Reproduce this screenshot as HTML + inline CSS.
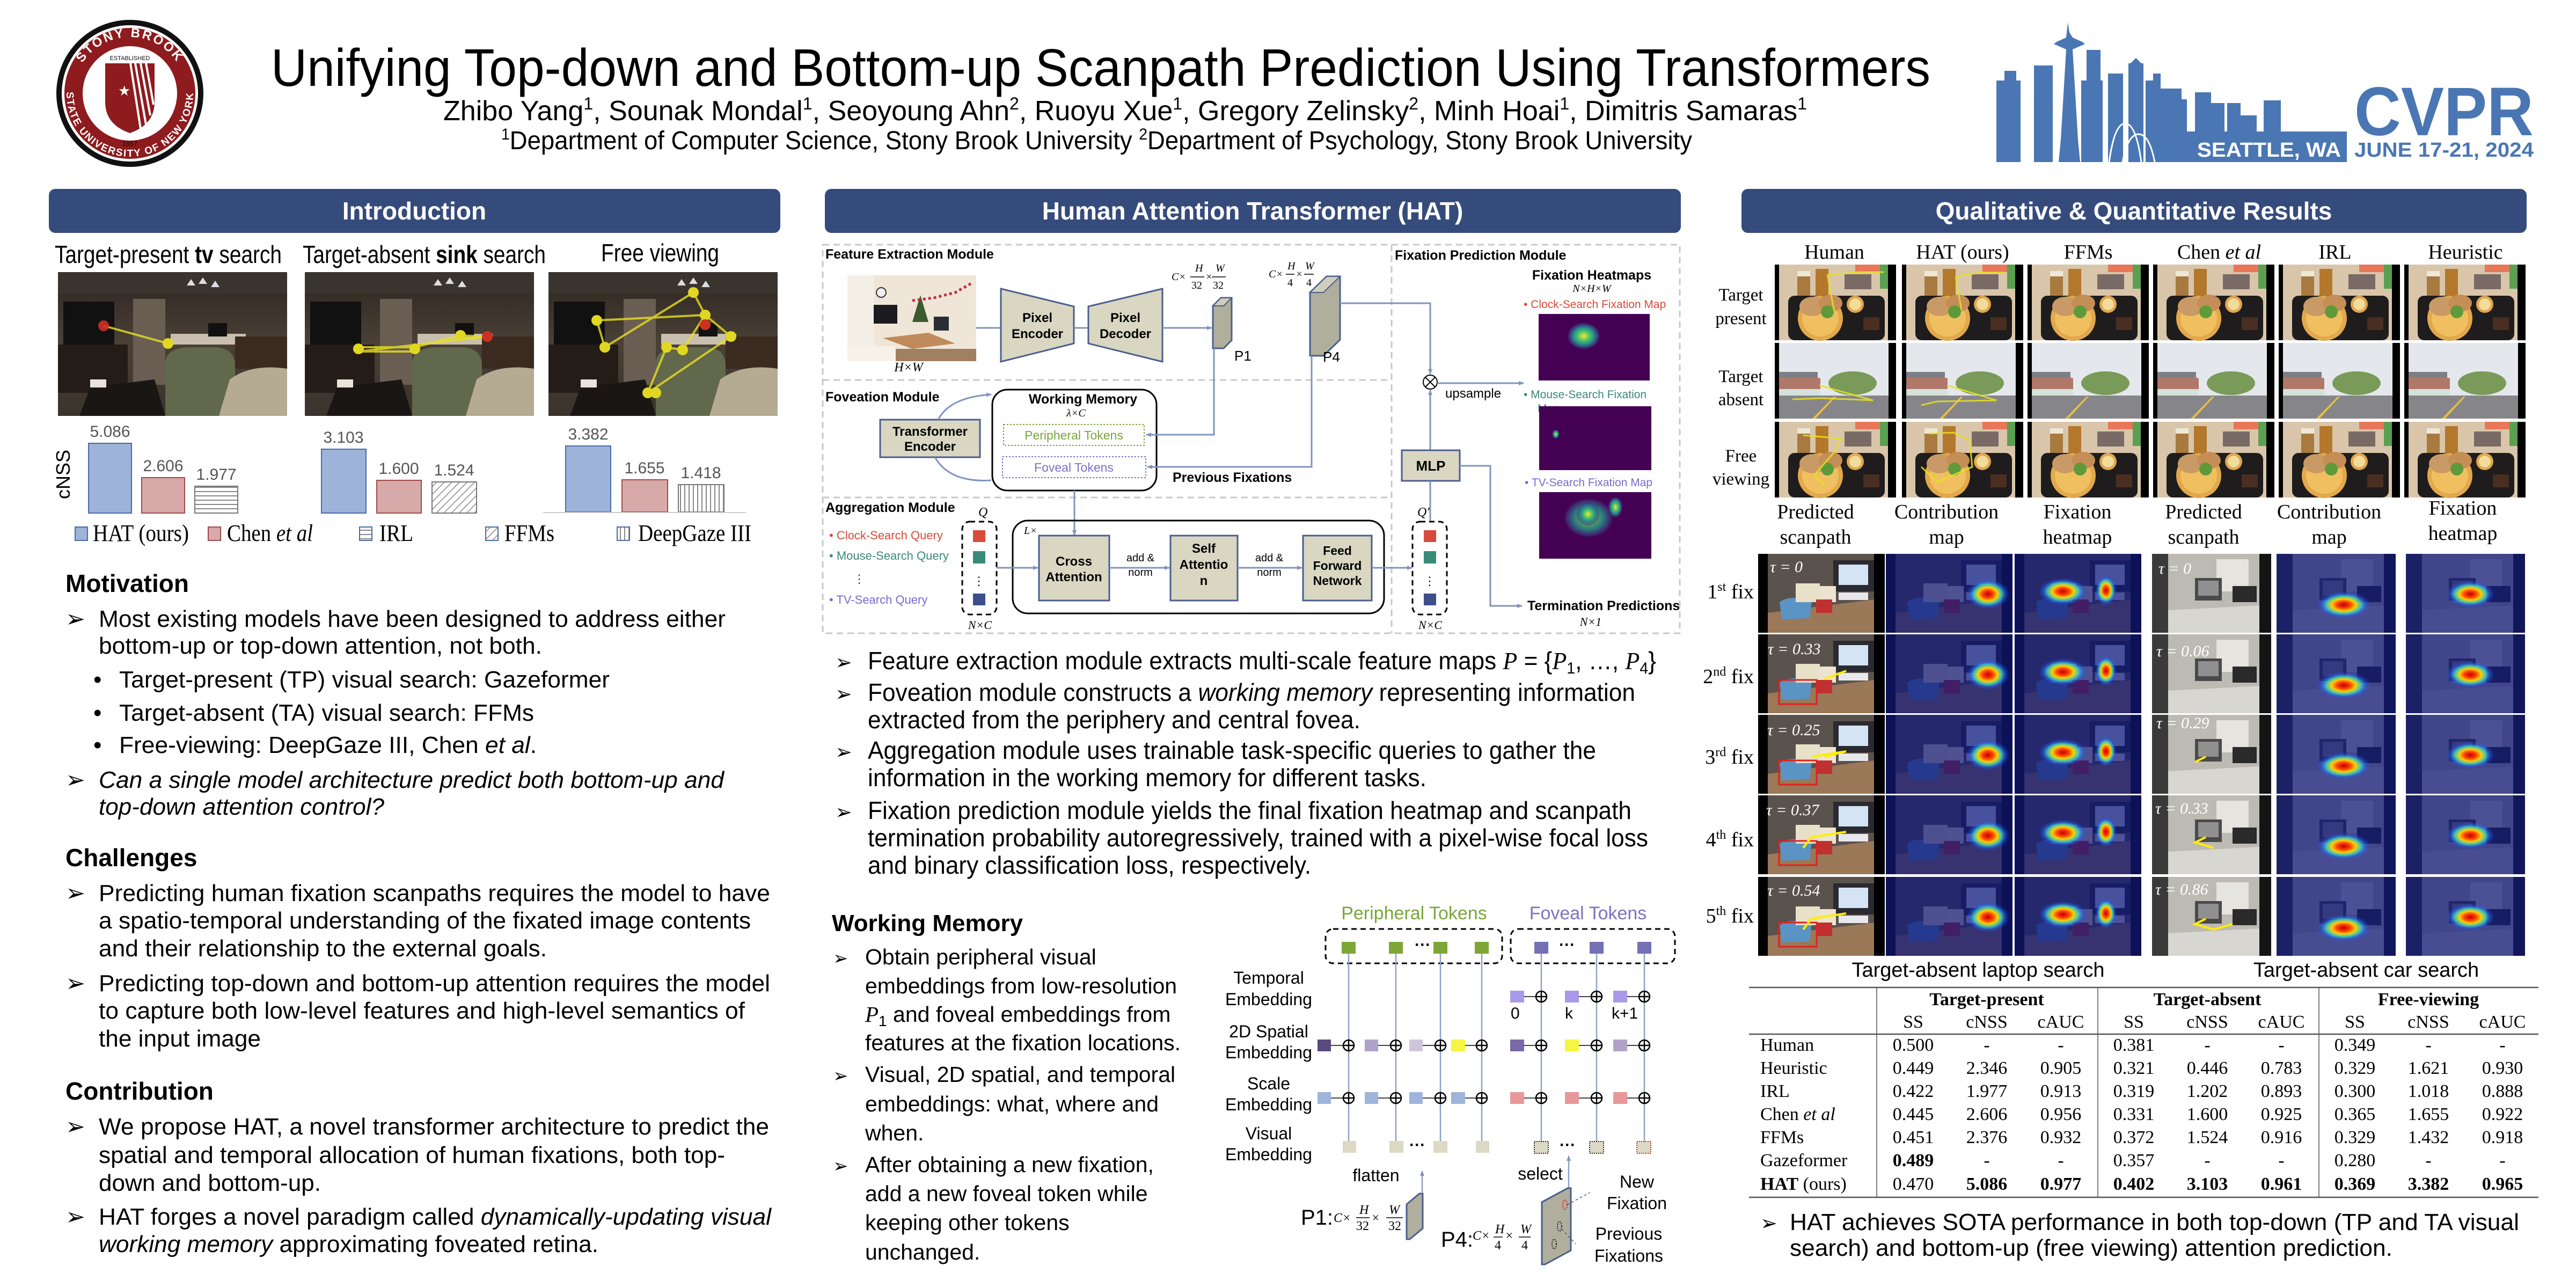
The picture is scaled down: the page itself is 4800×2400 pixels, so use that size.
<!DOCTYPE html>
<html><head><meta charset="utf-8"><style>
html,body{margin:0;padding:0;background:#fff;}
svg{display:block;}
</style></head><body>
<svg xmlns="http://www.w3.org/2000/svg" xmlns:xlink="http://www.w3.org/1999/xlink" width="4800" height="2400" viewBox="0 0 4800 2400" font-family="Liberation Sans, Arial, sans-serif">
<defs>
<radialGradient id="jet"><stop offset="0" stop-color="#c00000"/><stop offset="0.25" stop-color="#ff4000"/><stop offset="0.45" stop-color="#ffd000"/><stop offset="0.65" stop-color="#40e0c0" stop-opacity="0.8"/><stop offset="0.85" stop-color="#2060ff" stop-opacity="0.4"/><stop offset="1" stop-color="#2060ff" stop-opacity="0"/></radialGradient>
<radialGradient id="vir"><stop offset="0" stop-color="#fde725"/><stop offset="0.3" stop-color="#5ec962"/><stop offset="0.6" stop-color="#21918c"/><stop offset="0.85" stop-color="#3b528b" stop-opacity="0.6"/><stop offset="1" stop-color="#440154" stop-opacity="0"/></radialGradient>
<linearGradient id="roomg" x1="0" y1="0" x2="0" y2="1"><stop offset="0" stop-color="#2c2620"/><stop offset="0.5" stop-color="#4a4036"/><stop offset="1" stop-color="#3a332c"/></linearGradient>
<pattern id="hh" width="8" height="8" patternUnits="userSpaceOnUse"><rect width="8" height="8" fill="#fff"/><line x1="0" y1="4" x2="8" y2="4" stroke="#888" stroke-width="2"/></pattern>
<pattern id="dg" width="10" height="10" patternUnits="userSpaceOnUse" patternTransform="rotate(45)"><rect width="10" height="10" fill="#fff"/><line x1="0" y1="0" x2="0" y2="10" stroke="#888" stroke-width="3"/></pattern>
<pattern id="vv" width="8" height="8" patternUnits="userSpaceOnUse"><rect width="8" height="8" fill="#fff"/><line x1="4" y1="0" x2="4" y2="8" stroke="#888" stroke-width="2"/></pattern>
<marker id="ar" markerWidth="10" markerHeight="10" refX="9" refY="5" orient="auto" markerUnits="userSpaceOnUse"><path d="M0,1 L10,5 L0,9 z" fill="#7f93bd"/></marker>
<g id="room">
<rect width="427" height="268" fill="url(#roomg)"/>
<rect x="0" y="0" width="427" height="40" fill="#3a342e"/>
<rect x="140" y="50" width="60" height="160" fill="#6a5e52"/>
<rect x="10" y="55" width="95" height="80" fill="#111"/>
<rect x="0" y="135" width="130" height="90" fill="#241c16"/>
<path d="M240 25 l8 -12 l8 12 z M262 22 l8 -12 l8 12 z M285 28 l8 -12 l8 12z" fill="#ddd"/>
<rect x="210" y="115" width="140" height="20" fill="#c8bfae"/>
<rect x="280" y="95" width="35" height="25" fill="#111"/>
<rect x="330" y="120" width="97" height="60" fill="#3a2a20"/>
<path d="M200 268 L200 170 Q200 140 250 140 L290 140 Q330 140 330 175 L330 268 Z" fill="#62684c"/>
<path d="M300 268 L320 200 Q360 170 427 180 L427 268 Z" fill="#b4ab92"/>
<path d="M40 268 L60 215 L180 200 L200 268 Z" fill="#1a1614"/>
<rect x="60" y="200" width="30" height="15" fill="#e8e4dc"/>
</g>
<g id="food">
<rect width="226" height="141" fill="#d9c6aa"/>
<rect x="0" y="0" width="8" height="141" fill="#000"/><rect x="211" y="0" width="15" height="141" fill="#000"/>
<rect x="150" y="0" width="50" height="14" fill="#e8775a"/>
<rect x="196" y="0" width="15" height="45" fill="#5aa050"/>
<rect x="42" y="12" width="24" height="52" fill="#a87a40"/><rect x="42" y="12" width="24" height="10" fill="#eee8d8"/>
<rect x="76" y="8" width="24" height="52" fill="#b4782c"/>
<rect x="130" y="18" width="50" height="28" fill="#7a6a66"/>
<rect x="25" y="58" width="180" height="83" rx="12" fill="#1e1c1c"/>
<circle cx="85" cy="100" r="42" fill="#e2a84c"/><circle cx="85" cy="100" r="34" fill="#f0c060"/>
<ellipse cx="70" cy="78" rx="24" ry="18" fill="#c99a66"/><ellipse cx="104" cy="72" rx="22" ry="16" fill="#c48e56"/>
<circle cx="98" cy="88" r="12" fill="#5e9a3a"/>
<circle cx="150" cy="74" r="16" fill="#e0a650"/><circle cx="150" cy="74" r="11" fill="#f2dc9a"/>
<rect x="165" y="98" width="30" height="24" fill="#4a2e22"/>
</g>
<g id="street">
<rect width="226" height="141" fill="#e4e8ec"/>
<rect x="0" y="0" width="8" height="141" fill="#000"/><rect x="212" y="0" width="14" height="141" fill="#000"/>
<ellipse cx="145" cy="75" rx="45" ry="22" fill="#7a9a5a"/>
<path d="M8 62 L60 58 L85 66 L85 100 L8 100 Z" fill="#b07868"/>
<rect x="8" y="54" width="72" height="10" fill="#7e7e86"/>
<rect x="8" y="86" width="77" height="14" fill="#d4e2dc"/>
<rect x="8" y="98" width="204" height="43" fill="#86868a"/>
<path d="M70 141 L110 100 L114 100 L76 141Z" fill="#e8c040"/>
</g>
<g id="desk">
<rect width="236" height="147" fill="#5a524c"/>
<rect x="0" y="0" width="18" height="147" fill="#000"/><rect x="216" y="0" width="20" height="147" fill="#000"/>
<rect x="140" y="12" width="76" height="58" fill="#2a2a30"/><rect x="150" y="20" width="55" height="38" fill="#d4e4f4"/>
<path d="M18 110 L216 85 L216 147 L18 147 Z" fill="#9a7858"/>
<path d="M40 90 Q60 75 100 88 L96 120 L44 122 Z" fill="#5a94c4"/>
<rect x="70" y="55" width="45" height="35" fill="#e8e0c8"/><rect x="115" y="60" width="30" height="30" fill="#ece4d0"/>
<rect x="150" y="72" width="55" height="14" fill="#e8e8ec"/>
<rect x="108" y="85" width="30" height="25" fill="#c03030"/>
</g>
<g id="office">
<rect width="222" height="147" fill="#bdbab4"/>
<rect x="0" y="0" width="30" height="147" fill="#3a3a38"/>
<rect x="120" y="10" width="60" height="60" fill="#e6e4de"/>
<rect x="80" y="45" width="50" height="42" fill="#4a4a4a"/><rect x="86" y="50" width="38" height="28" fill="#909090"/>
<rect x="150" y="60" width="45" height="30" fill="#2a2a2a"/>
<path d="M30 105 L222 95 L222 147 L30 147 Z" fill="#d8d6d0"/>
<rect x="200" y="0" width="22" height="147" fill="#141414"/>
</g>
<g id="deskheat"><use href="#desk"/><rect width="236" height="147" fill="#10187a" opacity="0.72"/></g>
<g id="officeheat"><use href="#office"/><rect width="222" height="147" fill="#10187a" opacity="0.72"/></g>
</defs>

<!-- HEADER -->
<g>
<circle cx="242" cy="174" r="137" fill="#111"/>
<circle cx="242" cy="174" r="127" fill="#fff"/>
<circle cx="242" cy="174" r="122" fill="#8e1b1e"/>
<circle cx="242" cy="174" r="88" fill="#fff"/>
<path d="M196 118 L288 118 L288 190 Q288 232 242 248 Q196 232 196 190 Z" fill="#8e1b1e"/>
<path d="M243 118 L262 240 M252 118 L272 232 M262 118 L280 215 M272 118 L286 195" stroke="#fff" stroke-width="4"/>
<text x="220" y="178" font-size="26" fill="#fff">★</text>
<path id="arcT" d="M137 174 A105 105 0 0 1 347 174" fill="none"/>
<path id="arcB" d="M124 174 A118 118 0 0 0 360 174" fill="none"/>
<text font-size="24" font-weight="bold" fill="#fff" letter-spacing="3"><textPath href="#arcT" startOffset="50%" text-anchor="middle">STONY BROOK</textPath></text>
<text font-size="19" font-weight="bold" fill="#fff" letter-spacing="2"><textPath href="#arcB" startOffset="50%" text-anchor="middle">STATE UNIVERSITY OF NEW YORK</textPath></text>
<text x="242" y="272" font-size="13" text-anchor="middle" fill="#111">1957</text>
<text x="242" y="112" font-size="11" text-anchor="middle" fill="#111">ESTABLISHED</text>
</g>
<text x="505" y="160" font-size="98" textLength="3092" lengthAdjust="spacingAndGlyphs" fill="#000">Unifying Top-down and Bottom-up Scanpath Prediction Using Transformers</text>
<text x="826" y="224" font-size="52" textLength="2541" lengthAdjust="spacingAndGlyphs" fill="#000">Zhibo Yang<tspan font-size="32" dy="-20">1</tspan><tspan dy="20">, Sounak Mondal</tspan><tspan font-size="32" dy="-20">1</tspan><tspan dy="20">, Seoyoung Ahn</tspan><tspan font-size="32" dy="-20">2</tspan><tspan dy="20">, Ruoyu Xue</tspan><tspan font-size="32" dy="-20">1</tspan><tspan dy="20">, Gregory Zelinsky</tspan><tspan font-size="32" dy="-20">2</tspan><tspan dy="20">, Minh Hoai</tspan><tspan font-size="32" dy="-20">1</tspan><tspan dy="20">, Dimitris Samaras</tspan><tspan font-size="32" dy="-20">1</tspan></text>
<text x="934" y="278" font-size="48" textLength="2219" lengthAdjust="spacingAndGlyphs" fill="#000"><tspan font-size="30" dy="-18">1</tspan><tspan dy="18">Department of Computer Science, Stony Brook University      </tspan><tspan font-size="30" dy="-18">2</tspan><tspan dy="18">Department of Psychology, Stony Brook University</tspan></text>

<g fill="#4a76b4">
<rect x="3720" y="150" width="45" height="152"/><rect x="3735" y="132" width="22" height="20"/>
<rect x="3790" y="122" width="35" height="180"/>
<path d="M3853 42 L3856 60 L3862 70 L3880 78 L3885 82 L3862 92 L3872 260 L3876 302 L3836 302 L3840 260 L3850 92 L3827 82 L3832 78 L3850 70 Z"/>
<rect x="3888" y="93" width="26" height="209"/><rect x="3878" y="150" width="40" height="152"/>
<rect x="3928" y="137" width="28" height="165"/>
<rect x="3966" y="118" width="28" height="184"/><path d="M3970 118 L3980 108 L3990 118Z"/>
<rect x="3998" y="150" width="22" height="152"/><rect x="4012" y="137" width="14" height="165"/>
<rect x="4020" y="165" width="45" height="137"/><rect x="4045" y="185" width="30" height="117"/>
<rect x="4090" y="172" width="30" height="130"/><rect x="4105" y="192" width="40" height="110"/>
<rect x="4150" y="192" width="25" height="110"/><rect x="4175" y="215" width="30" height="87"/>
<rect x="4218" y="187" width="32" height="115"/><rect x="4245" y="245" width="128" height="57"/>
<rect x="4070" y="245" width="303" height="57"/>
<text x="4387" y="252" font-size="128" font-weight="bold" textLength="334" lengthAdjust="spacingAndGlyphs">CVPR</text>
<text x="4387" y="292" font-size="38" font-weight="bold" textLength="334" lengthAdjust="spacingAndGlyphs">JUNE 17-21, 2024</text>
</g>
<path d="M3930 302 Q3940 230 3960 230 Q3980 230 3990 302 M3955 302 Q3965 250 3985 250 Q4005 250 4015 302" stroke="#fff" stroke-width="3" fill="none"/>
<text x="4094" y="292" font-size="38" font-weight="bold" fill="#fff" textLength="268" lengthAdjust="spacingAndGlyphs">SEATTLE, WA</text>

<!-- SECTION BARS -->
<rect x="91" y="352" width="1363" height="82" rx="12" fill="#354b7c"/>
<text x="772" y="409" font-size="46" font-weight="bold" fill="#fff" text-anchor="middle">Introduction</text>
<rect x="1537" y="352" width="1595" height="82" rx="12" fill="#354b7c"/>
<text x="2334" y="409" font-size="46" font-weight="bold" fill="#fff" text-anchor="middle">Human Attention Transformer (HAT)</text>
<rect x="3245" y="352" width="1463" height="82" rx="12" fill="#354b7c"/>
<text x="3976" y="409" font-size="46" font-weight="bold" fill="#fff" text-anchor="middle">Qualitative &amp; Quantitative Results</text>

<!-- INTRO -->
<text x="102" y="490" font-size="46" textLength="423" lengthAdjust="spacingAndGlyphs">Target-present <tspan font-weight="bold">tv</tspan> search</text>
<text x="564" y="490" font-size="46" textLength="453" lengthAdjust="spacingAndGlyphs">Target-absent <tspan font-weight="bold">sink</tspan> search</text>
<text x="1120" y="487" font-size="46" textLength="220" lengthAdjust="spacingAndGlyphs">Free viewing</text>
<g transform="translate(108,507)"><use href="#room"/>
<polyline points="85,100 205,133" stroke="#e8e020" stroke-width="4" fill="none" opacity="0.8"/>
<circle cx="85" cy="100" r="10" fill="#d03020" opacity="0.9"/><circle cx="205" cy="133" r="10" fill="#e0d820"/></g>
<g transform="translate(568,507)"><use href="#room"/>
<polyline points="100,140 205,140 290,118 340,120 100,148 205,148" stroke="#e8e020" stroke-width="4" fill="none" opacity="0.8"/>
<circle cx="100" cy="143" r="10" fill="#e0d820"/><circle cx="205" cy="143" r="10" fill="#e0d820"/><circle cx="290" cy="118" r="10" fill="#e0d820"/><circle cx="340" cy="120" r="10" fill="#d03020"/></g>
<g transform="translate(1022,507)"><use href="#room"/>
<polyline points="270,38 292,80 340,120 185,225 220,140 250,145 292,80 90,90 105,140 270,38" stroke="#e8e020" stroke-width="4" fill="none" opacity="0.8"/>
<circle cx="270" cy="38" r="10" fill="#e0d820"/><circle cx="292" cy="80" r="10" fill="#e0d820"/><circle cx="90" cy="90" r="10" fill="#e0d820"/><circle cx="105" cy="140" r="10" fill="#e0d820"/><circle cx="340" cy="120" r="10" fill="#e0d820"/><circle cx="220" cy="140" r="10" fill="#e0d820"/><circle cx="250" cy="145" r="10" fill="#e0d820"/><circle cx="185" cy="225" r="10" fill="#e0d820"/><circle cx="200" cy="225" r="10" fill="#e0d820"/><circle cx="292" cy="98" r="10" fill="#d03020"/></g>

<g font-size="30" fill="#555" text-anchor="middle">
<rect x="165" y="826" width="80" height="130" fill="#9db3d9" stroke="#4a6aa8" stroke-width="2"/><text x="205" y="814">5.086</text>
<rect x="264" y="890" width="80" height="66" fill="#d8a9a9" stroke="#a04848" stroke-width="2"/><text x="304" y="878">2.606</text>
<rect x="363" y="906" width="80" height="50" fill="url(#hh)" stroke="#777" stroke-width="2"/><text x="403" y="894">1.977</text>
<rect x="599" y="837" width="83" height="119" fill="#9db3d9" stroke="#4a6aa8" stroke-width="2"/><text x="640" y="825">3.103</text>
<rect x="702" y="895" width="83" height="61" fill="#d8a9a9" stroke="#a04848" stroke-width="2"/><text x="743" y="883">1.600</text>
<rect x="805" y="898" width="83" height="58" fill="url(#dg)" stroke="#777" stroke-width="2"/><text x="846" y="886">1.524</text>
<rect x="1054" y="831" width="84" height="123" fill="#9db3d9" stroke="#4a6aa8" stroke-width="2"/><text x="1096" y="819">3.382</text>
<rect x="1159" y="894" width="85" height="60" fill="#d8a9a9" stroke="#a04848" stroke-width="2"/><text x="1201" y="882">1.655</text>
<rect x="1264" y="903" width="85" height="51" fill="url(#vv)" stroke="#777" stroke-width="2"/><text x="1306" y="891">1.418</text>
</g>
<line x1="1012" y1="955" x2="1390" y2="955" stroke="#ccc" stroke-width="2"/>
<text transform="translate(130,884) rotate(-90)" font-size="36" text-anchor="middle">cNSS</text>
<g font-family="Liberation Serif, Times New Roman, serif" font-size="44">
<rect x="140" y="982" width="23" height="25" fill="#9db3d9" stroke="#4a6aa8" stroke-width="2"/><text x="173" y="1008" textLength="179" lengthAdjust="spacingAndGlyphs">HAT (ours)</text>
<rect x="388" y="982" width="23" height="25" fill="#d8a9a9" stroke="#a04848" stroke-width="2"/><text x="423" y="1008" textLength="160" lengthAdjust="spacingAndGlyphs">Chen <tspan font-style="italic">et al</tspan></text>
<rect x="670" y="982" width="23" height="25" fill="url(#hh)" stroke="#4a6aa8" stroke-width="2"/><text x="707" y="1008" textLength="63" lengthAdjust="spacingAndGlyphs">IRL</text>
<rect x="905" y="982" width="23" height="25" fill="url(#dg)" stroke="#4a6aa8" stroke-width="2"/><text x="940" y="1008" textLength="93" lengthAdjust="spacingAndGlyphs">FFMs</text>
<rect x="1150" y="982" width="23" height="25" fill="url(#vv)" stroke="#4a6aa8" stroke-width="2"/><text x="1189" y="1008" textLength="211" lengthAdjust="spacingAndGlyphs">DeepGaze III</text>
</g>

<g font-size="44" fill="#000">
<text x="122" y="1103" font-weight="bold" font-size="46">Motivation</text>
<text x="122" y="1168">➢</text><text x="184" y="1168" textLength="1168" lengthAdjust="spacingAndGlyphs">Most existing models have been designed to address either</text>
<text x="184" y="1218" textLength="826" lengthAdjust="spacingAndGlyphs">bottom-up or top-down attention, not both.</text>
<text x="174" y="1281">•</text><text x="222" y="1281" textLength="914" lengthAdjust="spacingAndGlyphs">Target-present (TP) visual search: Gazeformer</text>
<text x="174" y="1343">•</text><text x="222" y="1343" textLength="773" lengthAdjust="spacingAndGlyphs">Target-absent (TA) visual search: FFMs</text>
<text x="174" y="1403">•</text><text x="222" y="1403" textLength="778" lengthAdjust="spacingAndGlyphs">Free-viewing: DeepGaze III, Chen <tspan font-style="italic">et al</tspan>.</text>
<text x="122" y="1468">➢</text><text x="184" y="1468" font-style="italic" textLength="1165" lengthAdjust="spacingAndGlyphs">Can a single model architecture predict both bottom-up and</text>
<text x="184" y="1518" font-style="italic" textLength="532" lengthAdjust="spacingAndGlyphs">top-down attention control?</text>
<text x="122" y="1614" font-weight="bold" font-size="46">Challenges</text>
<text x="122" y="1679">➢</text><text x="184" y="1679" textLength="1251" lengthAdjust="spacingAndGlyphs">Predicting human fixation scanpaths requires the model to have</text>
<text x="184" y="1730" textLength="1215" lengthAdjust="spacingAndGlyphs">a spatio-temporal understanding of the fixated image contents</text>
<text x="184" y="1782" textLength="835" lengthAdjust="spacingAndGlyphs">and their relationship to the external goals.</text>
<text x="122" y="1847">➢</text><text x="184" y="1847" textLength="1251" lengthAdjust="spacingAndGlyphs">Predicting top-down and bottom-up attention requires the model</text>
<text x="184" y="1898" textLength="1204" lengthAdjust="spacingAndGlyphs">to capture both low-level features and high-level semantics of</text>
<text x="184" y="1950" textLength="302" lengthAdjust="spacingAndGlyphs">the input image</text>
<text x="122" y="2049" font-weight="bold" font-size="46">Contribution</text>
<text x="122" y="2114">➢</text><text x="184" y="2114" textLength="1249" lengthAdjust="spacingAndGlyphs">We propose HAT, a novel transformer architecture to predict the</text>
<text x="184" y="2167" textLength="1167" lengthAdjust="spacingAndGlyphs">spatial and temporal allocation of human fixations, both top-</text>
<text x="184" y="2219" textLength="414" lengthAdjust="spacingAndGlyphs">down and bottom-up.</text>
<text x="122" y="2282">➢</text><text x="184" y="2282" textLength="1253" lengthAdjust="spacingAndGlyphs">HAT forges a novel paradigm called <tspan font-style="italic">dynamically-updating visual</tspan></text>
<text x="184" y="2333" textLength="931" lengthAdjust="spacingAndGlyphs"><tspan font-style="italic">working memory</tspan> approximating foveated retina.</text>
</g>

<!-- HAT DIAGRAM -->
<g fill="none" stroke="#c8c8c8" stroke-width="3" stroke-dasharray="12,8">
<rect x="1533" y="456" width="1597" height="724"/>
<line x1="1533" y1="708" x2="2593" y2="708"/>
<line x1="1533" y1="927" x2="2593" y2="927"/>
<line x1="2593" y1="456" x2="2593" y2="1180"/>
</g>
<g font-size="25" font-weight="bold">
<text x="1538" y="482">Feature Extraction Module</text>
<text x="2599" y="484">Fixation Prediction Module</text>
<text x="1538" y="748">Foveation Module</text>
<text x="1538" y="954">Aggregation Module</text>
<text x="2966" y="521" text-anchor="middle">Fixation Heatmaps</text>
<text x="2018" y="752" text-anchor="middle">Working Memory</text>
<text x="2185" y="898">Previous Fixations</text>
<text x="2846" y="1137">Termination Predictions</text>
</g>
<g>
<rect x="1579" y="513" width="240" height="160" rx="4" fill="#efe6d8"/>
<rect x="1579" y="513" width="50" height="140" fill="#f4efe6"/>
<rect x="1628" y="568" width="44" height="35" fill="#1c1c20"/>
<path d="M1700 600 L1715 550 L1730 600 Z" fill="#3a5a30"/>
<rect x="1740" y="590" width="28" height="26" fill="#2a2e34"/>
<path d="M1645 630 L1730 620 L1780 640 L1700 650 Z" fill="#c08a5a"/>
<rect x="1579" y="650" width="240" height="23" fill="#a08060"/>
<rect x="1579" y="645" width="90" height="28" fill="#f6f2ea"/>
<path d="M1700 560 L1740 555 L1780 545 L1810 528" stroke="#c03040" stroke-width="5" stroke-dasharray="5,5" fill="none"/>
<circle cx="1642" cy="545" r="9" fill="#eee" stroke="#333" stroke-width="2"/>
</g>
<text x="1693" y="692" font-family="Liberation Serif, serif" font-style="italic" font-size="24" text-anchor="middle">H×W</text>
<line x1="1819" y1="611" x2="1865" y2="611" stroke="#7f93bd" stroke-width="3"/>
<path d="M1865 538 L2001 571 L2001 640 L1865 674 Z" fill="#d9d6c2" stroke="#4a5f8f" stroke-width="3"/>
<line x1="2001" y1="611" x2="2028" y2="611" stroke="#7f93bd" stroke-width="3"/>
<path d="M2028 571 L2166 538 L2166 674 L2028 640 Z" fill="#d9d6c2" stroke="#4a5f8f" stroke-width="3"/>
<g font-size="24" font-weight="bold" text-anchor="middle">
<text x="1933" y="600">Pixel</text><text x="1933" y="630">Encoder</text>
<text x="2097" y="600">Pixel</text><text x="2097" y="630">Decoder</text>
</g>
<line x1="2166" y1="611" x2="2258" y2="611" stroke="#7f93bd" stroke-width="3" marker-end="url(#ar)"/>
<path d="M2260 570 L2275 555 L2295 555 L2295 634 L2280 649 L2260 649 Z" fill="#b0ae9c" stroke="#4a5f8f" stroke-width="3"/>
<path d="M2260 570 L2275 555 L2295 555 L2280 570 Z" fill="#cfcdbb" stroke="#4a5f8f" stroke-width="2"/>
<text x="2300" y="672" font-size="26">P1</text>
<path d="M2441 545 L2472 515 L2497 515 L2497 633 L2466 663 L2441 663 Z" fill="#b0ae9c" stroke="#4a5f8f" stroke-width="3"/>
<path d="M2441 545 L2472 515 L2497 515 L2466 545 Z" fill="#cfcdbb" stroke="#4a5f8f" stroke-width="2"/>
<text x="2465" y="674" font-size="26">P4</text>
<g font-family="Liberation Serif, serif" font-style="italic" font-size="20">
<text x="2183" y="522">C×</text><text x="2227" y="506">H</text><line x1="2218" y1="516" x2="2244" y2="516" stroke="#000" stroke-width="1.5"/><text x="2220" y="538" font-style="normal">32</text>
<text x="2246" y="522">×</text><text x="2265" y="506">W</text><line x1="2258" y1="516" x2="2284" y2="516" stroke="#000" stroke-width="1.5"/><text x="2260" y="538" font-style="normal">32</text>
<text x="2364" y="517">C×</text><text x="2399" y="502">H</text><line x1="2396" y1="511" x2="2412" y2="511" stroke="#000" stroke-width="1.5"/><text x="2399" y="533" font-style="normal">4</text>
<text x="2414" y="517">×</text><text x="2432" y="502">W</text><line x1="2430" y1="511" x2="2448" y2="511" stroke="#000" stroke-width="1.5"/><text x="2434" y="533" font-style="normal">4</text>
</g>
<polyline points="2497,565 2665,565 2665,697" fill="none" stroke="#7f93bd" stroke-width="3" marker-end="url(#ar)"/>
<circle cx="2665" cy="712" r="13" fill="#fff" stroke="#000" stroke-width="2"/>
<path d="M2656 703 L2674 721 M2674 703 L2656 721" stroke="#000" stroke-width="2"/>
<line x1="2678" y1="714" x2="2839" y2="714" stroke="#7f93bd" stroke-width="3" marker-end="url(#ar)"/>
<text x="2693" y="741" font-size="24">upsample</text>
<line x1="2665" y1="839" x2="2665" y2="727" stroke="#7f93bd" stroke-width="3" marker-end="url(#ar)"/>
<rect x="2612" y="839" width="108" height="57" fill="#d9d6c2" stroke="#4a5f8f" stroke-width="3"/>
<text x="2666" y="877" font-size="26" font-weight="bold" text-anchor="middle">MLP</text>
<polyline points="2720,868 2777,868 2777,1129 2836,1129" fill="none" stroke="#7f93bd" stroke-width="3" marker-end="url(#ar)"/>
<line x1="2665" y1="970" x2="2665" y2="896" stroke="#7f93bd" stroke-width="3"/>
<text x="2964" y="1166" font-family="Liberation Serif, serif" font-style="italic" font-size="22" text-anchor="middle">N×1</text>
<text x="2966" y="544" font-family="Liberation Serif, serif" font-style="italic" font-size="20" text-anchor="middle">N×H×W</text>
<g font-size="21">
<text x="2839" y="574" fill="#d84a3a">• Clock-Search Fixation Map</text>
<text x="2839" y="742" fill="#3a8a78">• Mouse-Search Fixation</text><text x="2865" y="768" fill="#3a8a78">Map</text>
<text x="2841" y="906" fill="#7a6acc">• TV-Search Fixation Map</text>
</g>
<rect x="2867" y="585" width="207" height="124" fill="#440154"/>
<ellipse cx="2951" cy="626" rx="32" ry="26" fill="url(#vir)"/>
<rect x="2868" y="757" width="209" height="119" fill="#440154"/>
<ellipse cx="2899" cy="809" rx="7" ry="9" fill="url(#vir)"/>
<rect x="2868" y="917" width="209" height="124" fill="#440154"/>
<ellipse cx="2960" cy="965" rx="48" ry="38" fill="url(#vir)" opacity="0.8"/>
<ellipse cx="2959" cy="958" rx="22" ry="22" fill="url(#vir)"/>
<ellipse cx="3010" cy="945" rx="14" ry="20" fill="url(#vir)"/>
<rect x="1640" y="782" width="186" height="70" fill="#d9d6c2" stroke="#4a5f8f" stroke-width="3"/>
<text x="1733" y="812" font-size="24" font-weight="bold" text-anchor="middle">Transformer</text>
<text x="1733" y="840" font-size="24" font-weight="bold" text-anchor="middle">Encoder</text>
<path d="M1748 782 Q1770 740 1847 735" fill="none" stroke="#7f93bd" stroke-width="3" marker-end="url(#ar)"/>
<path d="M1742 852 Q1770 900 1847 895" fill="none" stroke="#7f93bd" stroke-width="3"/>
<rect x="1849" y="726" width="306" height="188" rx="28" fill="none" stroke="#000" stroke-width="3"/>
<text x="2005" y="776" font-family="Liberation Serif, serif" font-style="italic" font-size="20" text-anchor="middle">λ×C</text>
<rect x="1870" y="791" width="262" height="39" fill="none" stroke="#7aa63a" stroke-width="2" stroke-dasharray="3,3"/>
<text x="2001" y="819" font-size="23" fill="#7aa63a" text-anchor="middle">Peripheral Tokens</text>
<rect x="1868" y="851" width="267" height="39" fill="none" stroke="#7b72c4" stroke-width="2" stroke-dasharray="3,3"/>
<text x="2001" y="879" font-size="23" fill="#7b72c4" text-anchor="middle">Foveal Tokens</text>
<polyline points="2262,649 2262,810 2136,810" fill="none" stroke="#7f93bd" stroke-width="3" marker-end="url(#ar)"/>
<polyline points="2444,663 2444,870 2138,870" fill="none" stroke="#7f93bd" stroke-width="3" marker-end="url(#ar)"/>
<line x1="2002" y1="914" x2="2002" y2="997" stroke="#7f93bd" stroke-width="3" marker-end="url(#ar)"/>
<text x="1823" y="962" font-family="Liberation Serif, serif" font-style="italic" font-size="24">Q</text>
<g font-size="22">
<text x="1545" y="1005" fill="#d84a3a">• Clock-Search Query</text>
<text x="1545" y="1043" fill="#3a8a78">• Mouse-Search Query</text>
<text x="1590" y="1086" fill="#333">⋮</text>
<text x="1545" y="1125" fill="#7a6acc">• TV-Search Query</text>
</g>
<rect x="1793" y="972" width="64" height="173" rx="14" fill="none" stroke="#000" stroke-width="3" stroke-dasharray="10,7"/>
<rect x="1813" y="988" width="23" height="22" fill="#d84a3a"/>
<rect x="1813" y="1027" width="23" height="23" fill="#3a8a78"/>
<text x="1824" y="1090" font-size="22" text-anchor="middle">⋮</text>
<rect x="1813" y="1106" width="23" height="22" fill="#3d4e8a"/>
<text x="1826" y="1172" font-family="Liberation Serif, serif" font-style="italic" font-size="22" text-anchor="middle">N×C</text>
<rect x="1887" y="970" width="692" height="173" rx="28" fill="none" stroke="#000" stroke-width="3"/>
<text x="1908" y="995" font-family="Liberation Serif, serif" font-style="italic" font-size="20">L×</text>
<line x1="1857" y1="1058" x2="1934" y2="1058" stroke="#7f93bd" stroke-width="3" marker-end="url(#ar)"/>
<rect x="1936" y="998" width="131" height="121" fill="#d9d6c2" stroke="#4a5f8f" stroke-width="3"/>
<text x="2001" y="1054" font-size="24" font-weight="bold" text-anchor="middle">Cross</text>
<text x="2001" y="1083" font-size="24" font-weight="bold" text-anchor="middle">Attention</text>
<line x1="2067" y1="1058" x2="2179" y2="1058" stroke="#7f93bd" stroke-width="3" marker-end="url(#ar)"/>
<text x="2125" y="1046" font-size="20" text-anchor="middle">add &amp;</text><text x="2125" y="1073" font-size="20" text-anchor="middle">norm</text>
<rect x="2181" y="998" width="125" height="121" fill="#d9d6c2" stroke="#4a5f8f" stroke-width="3"/>
<text x="2243" y="1030" font-size="24" font-weight="bold" text-anchor="middle">Self</text>
<text x="2243" y="1060" font-size="24" font-weight="bold" text-anchor="middle">Attentio</text>
<text x="2243" y="1090" font-size="24" font-weight="bold" text-anchor="middle">n</text>
<line x1="2306" y1="1058" x2="2426" y2="1058" stroke="#7f93bd" stroke-width="3" marker-end="url(#ar)"/>
<text x="2365" y="1046" font-size="20" text-anchor="middle">add &amp;</text><text x="2365" y="1073" font-size="20" text-anchor="middle">norm</text>
<rect x="2428" y="998" width="128" height="121" fill="#d9d6c2" stroke="#4a5f8f" stroke-width="3"/>
<text x="2492" y="1034" font-size="23" font-weight="bold" text-anchor="middle">Feed</text>
<text x="2492" y="1062" font-size="23" font-weight="bold" text-anchor="middle">Forward</text>
<text x="2492" y="1090" font-size="23" font-weight="bold" text-anchor="middle">Network</text>
<line x1="2556" y1="1058" x2="2631" y2="1058" stroke="#7f93bd" stroke-width="3" marker-end="url(#ar)"/>
<text x="2641" y="962" font-family="Liberation Serif, serif" font-style="italic" font-size="24">Q′</text>
<rect x="2632" y="972" width="64" height="173" rx="14" fill="none" stroke="#000" stroke-width="3" stroke-dasharray="10,7"/>
<rect x="2653" y="988" width="23" height="22" fill="#d84a3a"/>
<rect x="2653" y="1027" width="23" height="23" fill="#3a8a78"/>
<text x="2664" y="1090" font-size="22" text-anchor="middle">⋮</text>
<rect x="2653" y="1106" width="23" height="22" fill="#3d4e8a"/>
<text x="2665" y="1172" font-family="Liberation Serif, serif" font-style="italic" font-size="22" text-anchor="middle">N×C</text>

<g font-size="46">
<text x="1556" y="1247" font-size="38">➢</text><text x="1617" y="1247" textLength="1469" lengthAdjust="spacingAndGlyphs">Feature extraction module extracts multi-scale feature maps <tspan font-family="Liberation Serif, serif" font-style="italic">P</tspan> = {<tspan font-family="Liberation Serif, serif" font-style="italic">P</tspan><tspan font-size="30" dy="8">1</tspan><tspan dy="-8">, …, </tspan><tspan font-family="Liberation Serif, serif" font-style="italic">P</tspan><tspan font-size="30" dy="8">4</tspan><tspan dy="-8">}</tspan></text>
<text x="1556" y="1306" font-size="38">➢</text><text x="1617" y="1306" textLength="1430" lengthAdjust="spacingAndGlyphs">Foveation module constructs a <tspan font-style="italic">working memory</tspan> representing information</text>
<text x="1617" y="1357" textLength="918" lengthAdjust="spacingAndGlyphs">extracted from the periphery and central fovea.</text>
<text x="1556" y="1414" font-size="38">➢</text><text x="1617" y="1414" textLength="1357" lengthAdjust="spacingAndGlyphs">Aggregation module uses trainable task-specific queries to gather the</text>
<text x="1617" y="1465" textLength="1041" lengthAdjust="spacingAndGlyphs">information in the working memory for different tasks.</text>
<text x="1556" y="1526" font-size="38">➢</text><text x="1617" y="1526" textLength="1423" lengthAdjust="spacingAndGlyphs">Fixation prediction module yields the final fixation heatmap and scanpath</text>
<text x="1617" y="1577" textLength="1454" lengthAdjust="spacingAndGlyphs">termination probability autoregressively, trained with a pixel-wise focal loss</text>
<text x="1617" y="1628" textLength="826" lengthAdjust="spacingAndGlyphs">and binary classification loss, respectively.</text>
</g>
<g font-size="41">
<text x="1550" y="1735" font-weight="bold" font-size="44">Working Memory</text>
<text x="1552" y="1797" font-size="34">➢</text><text x="1612" y="1797">Obtain peripheral visual</text>
<text x="1612" y="1851">embeddings from low-resolution</text>
<text x="1612" y="1904"><tspan font-family="Liberation Serif, serif" font-style="italic">P</tspan><tspan font-size="28" dy="8">1</tspan><tspan dy="-8"> and foveal embeddings from</tspan></text>
<text x="1612" y="1957">features at the fixation locations.</text>
<text x="1552" y="2016" font-size="34">➢</text><text x="1612" y="2016">Visual, 2D spatial, and temporal</text>
<text x="1612" y="2071">embeddings: what, where and</text>
<text x="1612" y="2125">when.</text>
<text x="1552" y="2184" font-size="34">➢</text><text x="1612" y="2184">After obtaining a new fixation,</text>
<text x="1612" y="2238">add a new foveal token while</text>
<text x="1612" y="2292">keeping other tokens</text>
<text x="1612" y="2347">unchanged.</text>
</g>

<text x="2635" y="1713" font-size="34" fill="#7aa63a" text-anchor="middle">Peripheral Tokens</text>
<text x="2959" y="1713" font-size="34" fill="#7b72c4" text-anchor="middle">Foveal Tokens</text>
<rect x="2470" y="1731" width="329" height="64" rx="14" fill="none" stroke="#000" stroke-width="3" stroke-dasharray="10,7"/>
<rect x="2815" y="1731" width="306" height="64" rx="14" fill="none" stroke="#000" stroke-width="3" stroke-dasharray="10,7"/>
<g stroke="#8fa0c4" stroke-width="2.5">
<line x1="2513" y1="1777" x2="2513" y2="2127"/><line x1="2601" y1="1777" x2="2601" y2="2127"/><line x1="2684" y1="1777" x2="2684" y2="2127"/><line x1="2761" y1="1777" x2="2761" y2="2127"/>
<line x1="2872" y1="1777" x2="2872" y2="2127"/><line x1="2975" y1="1777" x2="2975" y2="2127"/><line x1="3064" y1="1777" x2="3064" y2="2127"/>
</g>
<g fill="#7ea636"><rect x="2500" y="1755" width="26" height="22"/><rect x="2588" y="1755" width="26" height="22"/><rect x="2671" y="1755" width="26" height="22"/><rect x="2748" y="1755" width="26" height="22"/></g>
<g fill="#7470b4"><rect x="2859" y="1755" width="26" height="22"/><rect x="2962" y="1755" width="26" height="22"/><rect x="3051" y="1755" width="26" height="22"/></g>
<text x="2636" y="1770" font-size="30" font-weight="bold">···</text>
<text x="2905" y="1770" font-size="30" font-weight="bold">···</text>
<g font-size="32" text-anchor="middle">
<text x="2364" y="1833">Temporal</text><text x="2364" y="1873">Embedding</text>
<text x="2364" y="1933">2D Spatial</text><text x="2364" y="1972">Embedding</text>
<text x="2364" y="2030">Scale</text><text x="2364" y="2069">Embedding</text>
<text x="2364" y="2123">Visual</text><text x="2364" y="2162">Embedding</text>
</g>
<g fill="#a89ae8"><rect x="2814" y="1846" width="26" height="22"/><rect x="2916" y="1846" width="26" height="22"/><rect x="3006" y="1846" width="26" height="22"/></g>
<g font-size="30"><text x="2815" y="1898">0</text><text x="2916" y="1898">k</text><text x="3003" y="1898">k+1</text></g>
<rect x="2455" y="1937" width="25" height="22" fill="#5a4a80"/><rect x="2543" y="1937" width="25" height="22" fill="#b0a2c8"/><rect x="2626" y="1937" width="25" height="22" fill="#cfc6dd"/><rect x="2704" y="1937" width="26" height="22" fill="#f5f542"/>
<rect x="2814" y="1937" width="26" height="22" fill="#7a68a8"/><rect x="2916" y="1937" width="26" height="22" fill="#f5f542"/><rect x="3006" y="1937" width="26" height="22" fill="#b0a2c8"/>
<g fill="#9fb4da"><rect x="2455" y="2035" width="25" height="22"/><rect x="2543" y="2035" width="25" height="22"/><rect x="2626" y="2035" width="25" height="22"/><rect x="2704" y="2035" width="26" height="22"/></g>
<g fill="#e89898"><rect x="2814" y="2035" width="26" height="22"/><rect x="2916" y="2035" width="26" height="22"/><rect x="3006" y="2035" width="26" height="22"/></g>
<g fill="#fff" stroke="#000" stroke-width="2.5">
<circle cx="2513" cy="1948" r="10"/><circle cx="2601" cy="1948" r="10"/><circle cx="2684" cy="1948" r="10"/><circle cx="2761" cy="1948" r="10"/><circle cx="2872" cy="1948" r="10"/><circle cx="2975" cy="1948" r="10"/><circle cx="3064" cy="1948" r="10"/>
<circle cx="2513" cy="2046" r="10"/><circle cx="2601" cy="2046" r="10"/><circle cx="2684" cy="2046" r="10"/><circle cx="2761" cy="2046" r="10"/><circle cx="2872" cy="2046" r="10"/><circle cx="2975" cy="2046" r="10"/><circle cx="3064" cy="2046" r="10"/>
<circle cx="2872" cy="1857" r="10"/><circle cx="2975" cy="1857" r="10"/><circle cx="3064" cy="1857" r="10"/>
</g>
<g stroke="#000" stroke-width="2.5">
<path d="M2503 1948h20M2513 1938v20M2591 1948h20M2601 1938v20M2674 1948h20M2684 1938v20M2751 1948h20M2761 1938v20M2862 1948h20M2872 1938v20M2965 1948h20M2975 1938v20M3054 1948h20M3064 1938v20"/>
<path d="M2503 2046h20M2513 2036v20M2591 2046h20M2601 2036v20M2674 2046h20M2684 2036v20M2751 2046h20M2761 2036v20M2862 2046h20M2872 2036v20M2965 2046h20M2975 2036v20M3054 2046h20M3064 2036v20"/>
<path d="M2862 1857h20M2872 1847v20M2965 1857h20M2975 1847v20M3054 1857h20M3064 1847v20"/>
<path d="M2480 1948h22M2568 1948h22M2651 1948h22M2730 1948h20M2840 1948h21M2942 1948h22M3032 1948h21M2480 2046h22M2568 2046h22M2651 2046h22M2730 2046h20M2840 2046h21M2942 2046h22M3032 2046h21M2840 1857h21M2942 1857h22M3032 1857h21" stroke-width="1.5"/>
</g>
<g fill="#dcd9c4"><rect x="2502" y="2126" width="25" height="22"/><rect x="2589" y="2126" width="26" height="22"/><rect x="2671" y="2126" width="26" height="22"/><rect x="2750" y="2126" width="25" height="22"/></g>
<rect x="2859" y="2127" width="26" height="22" fill="#dcd9c4" stroke="#222" stroke-width="2" stroke-dasharray="2,2"/>
<rect x="2962" y="2127" width="26" height="22" fill="#dcd9c4" stroke="#222" stroke-width="2" stroke-dasharray="2,2"/>
<rect x="3050" y="2127" width="26" height="22" fill="#dcd9c4" stroke="#e02020" stroke-width="2" stroke-dasharray="2,2"/>
<text x="2626" y="2143" font-size="30" font-weight="bold">···</text>
<text x="2906" y="2143" font-size="30" font-weight="bold">···</text>
<text x="2564" y="2201" font-size="32" text-anchor="middle">flatten</text>
<line x1="2650" y1="2222" x2="2650" y2="2182" stroke="#8fa0c4" stroke-width="2.5" marker-end="url(#ar)"/>
<text x="2870" y="2198" font-size="32" text-anchor="middle">select</text>
<line x1="2923" y1="2214" x2="2923" y2="2154" stroke="#8fa0c4" stroke-width="2.5" marker-end="url(#ar)"/>
<path d="M2621 2244 L2645 2224 L2651 2224 L2651 2289 L2627 2309 L2621 2309 Z" fill="#b0ae9c" stroke="#4a5f8f" stroke-width="3"/>
<text x="2424" y="2282" font-size="40">P1:</text>
<g font-family="Liberation Serif, serif" font-style="italic" font-size="24">
<text x="2485" y="2277">C×</text><text x="2533" y="2262">H</text><line x1="2527" y1="2269" x2="2552" y2="2269" stroke="#000" stroke-width="1.5"/><text x="2527" y="2292" font-style="normal">32</text>
<text x="2555" y="2277">×</text><text x="2588" y="2262">W</text><line x1="2583" y1="2269" x2="2614" y2="2269" stroke="#000" stroke-width="1.5"/><text x="2587" y="2292" font-style="normal">32</text>
</g>
<path d="M2873 2240 L2921 2214 L2927 2214 L2927 2330 L2879 2356 L2873 2356 Z" fill="#b0ae9c" stroke="#4a5f8f" stroke-width="3"/>
<ellipse cx="2916" cy="2245" rx="4" ry="9" fill="none" stroke="#e02020" stroke-width="2" stroke-dasharray="2,2"/>
<ellipse cx="2906" cy="2285" rx="4" ry="9" fill="none" stroke="#222" stroke-width="2" stroke-dasharray="2,2"/>
<ellipse cx="2896" cy="2318" rx="4" ry="9" fill="none" stroke="#222" stroke-width="2" stroke-dasharray="2,2"/>
<path d="M2920 2245 L2963 2222 M2910 2290 L2936 2318" stroke="#4a5f8f" stroke-width="1.5" stroke-dasharray="5,4"/>
<text x="2685" y="2323" font-size="40">P4:</text>
<g font-family="Liberation Serif, serif" font-style="italic" font-size="24">
<text x="2744" y="2310">C×</text><text x="2786" y="2298">H</text><line x1="2783" y1="2305" x2="2800" y2="2305" stroke="#000" stroke-width="1.5"/><text x="2785" y="2328" font-style="normal">4</text>
<text x="2804" y="2310">×</text><text x="2833" y="2298">W</text><line x1="2830" y1="2305" x2="2852" y2="2305" stroke="#000" stroke-width="1.5"/><text x="2835" y="2328" font-style="normal">4</text>
</g>
<g font-size="32" text-anchor="middle">
<text x="3050" y="2213">New</text><text x="3050" y="2253">Fixation</text>
<text x="3035" y="2310">Previous</text><text x="3035" y="2351">Fixations</text>
</g>

<!-- RESULTS -->
<g font-family="Liberation Serif, Times New Roman, serif" font-size="38" text-anchor="middle">
<text x="3418" y="482">Human</text><text x="3657" y="482">HAT (ours)</text><text x="3891" y="482">FFMs</text><text x="4135" y="482">Chen <tspan font-style="italic">et al</tspan></text><text x="4351" y="482">IRL</text><text x="4594" y="482">Heuristic</text>
</g>
<g font-family="Liberation Serif, Times New Roman, serif" font-size="33" text-anchor="middle">
<text x="3244" y="560">Target</text><text x="3244" y="604">present</text>
<text x="3244" y="712">Target</text><text x="3244" y="755">absent</text>
<text x="3244" y="860">Free</text><text x="3244" y="903">viewing</text>
</g>
<g>
<g transform="translate(3307,493)"><use href="#food"/></g><g transform="translate(3544,493)"><use href="#food"/></g><g transform="translate(3778,493)"><use href="#food"/></g><g transform="translate(4012,493)"><use href="#food"/></g><g transform="translate(4246,493)"><use href="#food"/></g><g transform="translate(4480,493)"><use href="#food"/></g>
<g transform="translate(3307,639)"><use href="#street"/></g><g transform="translate(3544,639)"><use href="#street"/></g><g transform="translate(3778,639)"><use href="#street"/></g><g transform="translate(4012,639)"><use href="#street"/></g><g transform="translate(4246,639)"><use href="#street"/></g><g transform="translate(4480,639)"><use href="#street"/></g>
<g transform="translate(3307,786)"><use href="#food"/></g><g transform="translate(3544,786)"><use href="#food"/></g><g transform="translate(3778,786)"><use href="#food"/></g><g transform="translate(4012,786)"><use href="#food"/></g><g transform="translate(4246,786)"><use href="#food"/></g><g transform="translate(4480,786)"><use href="#food"/></g>
</g>
<g stroke="#e8e020" stroke-width="3" fill="none" opacity="0.85">
<polyline points="3405,512 3418,580"/><polyline points="3405,512 3465,507 3510,507"/>
<polyline points="3644,515 3655,578"/><polyline points="3644,515 3690,508 3735,508"/>
<polyline points="3390,718 3490,746 3395,742 3340,744"/>
<polyline points="3628,718 3720,746 3610,748 3580,755"/>
<polyline points="3360,811 3430,817 3420,840 3380,886 3400,903"/>
<polyline points="3595,808 3640,806 3670,820 3675,870 3610,898 3580,870"/>
</g>

<g font-family="Liberation Serif, Times New Roman, serif" font-size="38" text-anchor="middle">
<text x="3383" y="966">Predicted</text><text x="3383" y="1013">scanpath</text>
<text x="3627" y="966">Contribution</text><text x="3627" y="1013">map</text>
<text x="3871" y="966">Fixation</text><text x="3871" y="1013">heatmap</text>
<text x="4106" y="966">Predicted</text><text x="4106" y="1013">scanpath</text>
<text x="4340" y="966">Contribution</text><text x="4340" y="1013">map</text>
<text x="4589" y="959">Fixation</text><text x="4589" y="1006">heatmap</text>
</g>
<g font-family="Liberation Serif, Times New Roman, serif" font-size="38" text-anchor="end">
<text x="3268" y="1115">1<tspan font-size="24" dy="-14">st</tspan><tspan dy="14"> fix</tspan></text>
<text x="3268" y="1273">2<tspan font-size="24" dy="-14">nd</tspan><tspan dy="14"> fix</tspan></text>
<text x="3268" y="1423">3<tspan font-size="24" dy="-14">rd</tspan><tspan dy="14"> fix</tspan></text>
<text x="3268" y="1577">4<tspan font-size="24" dy="-14">th</tspan><tspan dy="14"> fix</tspan></text>
<text x="3268" y="1719">5<tspan font-size="24" dy="-14">th</tspan><tspan dy="14"> fix</tspan></text>
</g>
<g id="grow">
<g transform="translate(3276,1032)"><use href="#desk"/></g>
<g transform="translate(3514,1032)"><use href="#deskheat"/><ellipse cx="190" cy="75" rx="40" ry="28" fill="url(#jet)"/></g>
<g transform="translate(3754,1032)"><use href="#deskheat"/><ellipse cx="90" cy="70" rx="45" ry="25" fill="url(#jet)"/><ellipse cx="170" cy="68" rx="20" ry="28" fill="url(#jet)"/></g>
<g transform="translate(4010,1032)"><use href="#office"/></g>
<g transform="translate(4242,1032)"><use href="#officeheat"/><ellipse cx="125" cy="95" rx="50" ry="25" fill="url(#jet)"/></g>
<g transform="translate(4483,1032)"><use href="#officeheat"/><ellipse cx="120" cy="75" rx="45" ry="25" fill="url(#jet)"/></g>
</g>
<use href="#grow" y="150"/><use href="#grow" y="300"/><use href="#grow" y="450"/><use href="#grow" y="602"/>
<g fill="none" stroke="#e02020" stroke-width="3"><rect x="3315" y="1267" width="70" height="45"/><rect x="3315" y="1417" width="70" height="45"/><rect x="3315" y="1567" width="70" height="45"/><rect x="3315" y="1719" width="70" height="45"/></g>
<g stroke="#ffee00" stroke-width="4" fill="none">
<path d="M3400 1265 L3440 1250 M3440 1400 L3400 1410 M3440 1400 L3375 1410 M3440 1550 L3375 1560 L3360 1580 M3440 1702 L3375 1712 L3360 1732 M4110 1410 L4090 1420 M4110 1560 L4090 1570 L4125 1580 M4110 1712 L4090 1722 L4125 1732 L4160 1722"/>
</g>
<g font-family="Liberation Serif, serif" font-size="30" fill="#fff">
<text x="3298" y="1066" font-style="italic">τ = 0</text><text x="3294" y="1219" font-style="italic">τ = 0.33</text><text x="3293" y="1370" font-style="italic">τ = 0.25</text><text x="3291" y="1519" font-style="italic">τ = 0.37</text><text x="3293" y="1669" font-style="italic">τ = 0.54</text>
<text x="4022" y="1069" font-style="italic">τ = 0</text><text x="4018" y="1223" font-style="italic">τ = 0.06</text><text x="4018" y="1357" font-style="italic">τ = 0.29</text><text x="4016" y="1516" font-style="italic">τ = 0.33</text><text x="4016" y="1667" font-style="italic">τ = 0.86</text>
</g>
<text x="3686" y="1820" font-size="38" text-anchor="middle">Target-absent laptop search</text>
<text x="4409" y="1820" font-size="38" text-anchor="middle">Target-absent car search</text>

<g stroke="#555" stroke-width="2.5">
<line x1="3259" y1="1840" x2="4730" y2="1840"/><line x1="3259" y1="1927" x2="4730" y2="1927"/><line x1="3259" y1="2231" x2="4730" y2="2231"/>
</g>
<g stroke="#555" stroke-width="1.5"><line x1="3497" y1="1840" x2="3497" y2="2231"/><line x1="3909" y1="1840" x2="3909" y2="2231"/><line x1="4321" y1="1840" x2="4321" y2="2231"/></g>
<g font-family="Liberation Serif, Times New Roman, serif" font-size="34" text-anchor="middle">
<text x="3702" y="1873" font-weight="bold">Target-present</text><text x="4113" y="1873" font-weight="bold">Target-absent</text><text x="4525" y="1873" font-weight="bold">Free-viewing</text>
<text x="3565" y="1915">SS</text><text x="3702" y="1915">cNSS</text><text x="3840" y="1915">cAUC</text>
<text x="3976" y="1915">SS</text><text x="4113" y="1915">cNSS</text><text x="4251" y="1915">cAUC</text>
<text x="4388" y="1915">SS</text><text x="4525" y="1915">cNSS</text><text x="4663" y="1915">cAUC</text>
</g>
<g font-family="Liberation Serif, Times New Roman, serif" font-size="34">
<g text-anchor="start">
<text x="3280" y="1958">Human</text><text x="3280" y="2001">Heuristic</text><text x="3280" y="2044">IRL</text><text x="3280" y="2087">Chen <tspan font-style="italic">et al</tspan></text><text x="3280" y="2130">FFMs</text><text x="3280" y="2173">Gazeformer</text><text x="3280" y="2217"><tspan font-weight="bold">HAT</tspan> (ours)</text>
</g>
<g text-anchor="middle">
<text x="3565" y="1958">0.500</text><text x="3702" y="1958">-</text><text x="3840" y="1958">-</text><text x="3976" y="1958">0.381</text><text x="4113" y="1958">-</text><text x="4251" y="1958">-</text><text x="4388" y="1958">0.349</text><text x="4525" y="1958">-</text><text x="4663" y="1958">-</text>
<text x="3565" y="2001">0.449</text><text x="3702" y="2001">2.346</text><text x="3840" y="2001">0.905</text><text x="3976" y="2001">0.321</text><text x="4113" y="2001">0.446</text><text x="4251" y="2001">0.783</text><text x="4388" y="2001">0.329</text><text x="4525" y="2001">1.621</text><text x="4663" y="2001">0.930</text>
<text x="3565" y="2044">0.422</text><text x="3702" y="2044">1.977</text><text x="3840" y="2044">0.913</text><text x="3976" y="2044">0.319</text><text x="4113" y="2044">1.202</text><text x="4251" y="2044">0.893</text><text x="4388" y="2044">0.300</text><text x="4525" y="2044">1.018</text><text x="4663" y="2044">0.888</text>
<text x="3565" y="2087">0.445</text><text x="3702" y="2087">2.606</text><text x="3840" y="2087">0.956</text><text x="3976" y="2087">0.331</text><text x="4113" y="2087">1.600</text><text x="4251" y="2087">0.925</text><text x="4388" y="2087">0.365</text><text x="4525" y="2087">1.655</text><text x="4663" y="2087">0.922</text>
<text x="3565" y="2130">0.451</text><text x="3702" y="2130">2.376</text><text x="3840" y="2130">0.932</text><text x="3976" y="2130">0.372</text><text x="4113" y="2130">1.524</text><text x="4251" y="2130">0.916</text><text x="4388" y="2130">0.329</text><text x="4525" y="2130">1.432</text><text x="4663" y="2130">0.918</text>
<text x="3565" y="2173" font-weight="bold">0.489</text><text x="3702" y="2173">-</text><text x="3840" y="2173">-</text><text x="3976" y="2173">0.357</text><text x="4113" y="2173">-</text><text x="4251" y="2173">-</text><text x="4388" y="2173">0.280</text><text x="4525" y="2173">-</text><text x="4663" y="2173">-</text>
<text x="3565" y="2217">0.470</text><text x="3702" y="2217" font-weight="bold">5.086</text><text x="3840" y="2217" font-weight="bold">0.977</text><text x="3976" y="2217" font-weight="bold">0.402</text><text x="4113" y="2217" font-weight="bold">3.103</text><text x="4251" y="2217" font-weight="bold">0.961</text><text x="4388" y="2217" font-weight="bold">0.369</text><text x="4525" y="2217" font-weight="bold">3.382</text><text x="4663" y="2217" font-weight="bold">0.965</text>
</g>
</g>
<text x="3280" y="2292" font-size="38">➢</text>
<text x="3335" y="2292" font-size="44" textLength="1359" lengthAdjust="spacingAndGlyphs">HAT achieves SOTA performance in both top-down (TP and TA visual</text>
<text x="3335" y="2340" font-size="44" textLength="1123" lengthAdjust="spacingAndGlyphs">search) and bottom-up (free viewing) attention prediction.</text>
</svg>
</body></html>
